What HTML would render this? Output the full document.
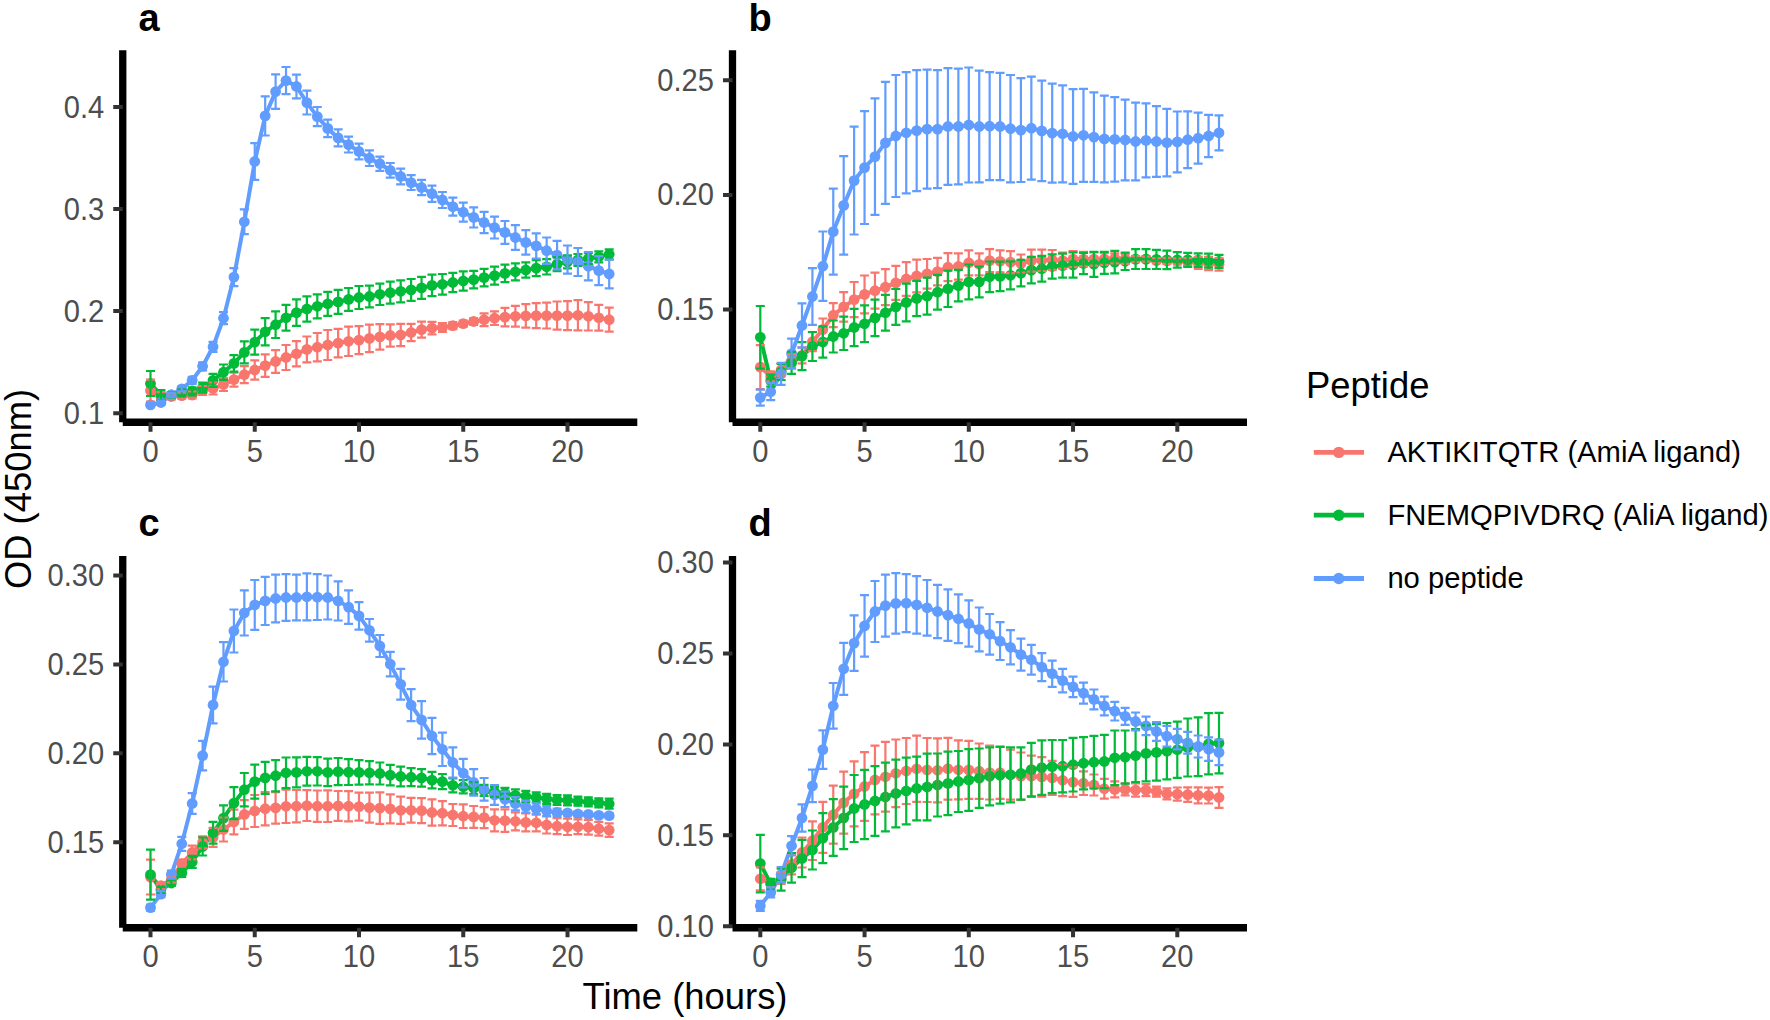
<!DOCTYPE html>
<html lang="en">
<head>
<meta charset="utf-8">
<title>Peptide growth curves</title>
<style>
html,body{margin:0;padding:0;background:#ffffff;}
body{width:1770px;height:1020px;overflow:hidden;font-family:"Liberation Sans",Arial,sans-serif;}
svg{display:block;}
</style>
</head>
<body>
<svg width="1770" height="1020" viewBox="0 0 1770 1020" font-family="'Liberation Sans', Arial, sans-serif">
<rect width="1770" height="1020" fill="#ffffff"/>
<g id="panel-a">
<polyline points="150.5,390.6 160.93,396.5 171.35,396.5 181.78,395.7 192.2,395 202.62,390.5 213.05,388.5 223.48,384.5 233.9,379.6 244.32,374.7 254.75,370 265.18,365.6 275.6,361.5 286.02,357.5 296.45,353.8 306.88,349.4 317.3,347.2 327.73,345 338.15,343.1 348.58,341.3 359,340.1 369.43,338.4 379.85,336.9 390.27,335.5 400.7,335 411.12,332.5 421.55,329.6 431.98,328.1 442.4,327.4 452.83,325.6 463.25,323.7 473.68,321.5 484.1,319.7 494.53,318.2 504.95,317.1 515.38,316.3 525.8,315.9 536.23,315.6 546.65,315.6 557.08,315.6 567.5,315.6 577.92,315.3 588.35,316.3 598.78,317.8 609.2,319.7" fill="none" stroke="#F8766D" stroke-width="4.0" stroke-linejoin="round"/>
<polyline points="150.5,383.5 160.93,395 171.35,395 181.78,392.8 192.2,391.3 202.62,387.6 213.05,380.3 223.48,372.2 233.9,363.4 244.32,352.4 254.75,342.1 265.18,331.8 275.6,324.7 286.02,317.8 296.45,312.6 306.88,309 317.3,306.3 327.73,303.8 338.15,301.9 348.58,299.4 359,297.5 369.43,296.5 379.85,294.3 390.27,292.6 400.7,291.3 411.12,289.9 421.55,287.9 431.98,285.4 442.4,284.3 452.83,282.5 463.25,281 473.68,279.6 484.1,277.6 494.53,275.6 504.95,273.4 515.38,271.8 525.8,270 536.23,268.1 546.65,266.8 557.08,264.1 567.5,261.9 577.92,260 588.35,258.5 598.78,256.8 609.2,254.3" fill="none" stroke="#00BA38" stroke-width="4.0" stroke-linejoin="round"/>
<polyline points="150.5,404.9 160.93,402.5 171.35,395 181.78,388.8 192.2,380.3 202.62,366.3 213.05,346.8 223.48,318.2 233.9,277.1 244.32,221.8 254.75,161.5 265.18,115.9 275.6,91.6 286.02,80.6 296.45,86.5 306.88,102.6 317.3,116.6 327.73,128.4 338.15,137.9 348.58,144.6 359,151.5 369.43,158.2 379.85,163.7 390.27,170.3 400.7,176.5 411.12,182.6 421.55,187.5 431.98,193.7 442.4,200 452.83,206.6 463.25,212.2 473.68,217.4 484.1,222.5 494.53,227.6 504.95,232.4 515.38,237.5 525.8,242.4 536.23,245.9 546.65,250.7 557.08,255.1 567.5,259.6 577.92,262 588.35,266.2 598.78,270.6 609.2,274" fill="none" stroke="#619CFF" stroke-width="4.0" stroke-linejoin="round"/>
<g fill="#F8766D">
<circle cx="150.5" cy="390.6" r="5.4"/>
<circle cx="160.93" cy="396.5" r="5.4"/>
<circle cx="171.35" cy="396.5" r="5.4"/>
<circle cx="181.78" cy="395.7" r="5.4"/>
<circle cx="192.2" cy="395" r="5.4"/>
<circle cx="202.62" cy="390.5" r="5.4"/>
<circle cx="213.05" cy="388.5" r="5.4"/>
<circle cx="223.48" cy="384.5" r="5.4"/>
<circle cx="233.9" cy="379.6" r="5.4"/>
<circle cx="244.32" cy="374.7" r="5.4"/>
<circle cx="254.75" cy="370" r="5.4"/>
<circle cx="265.18" cy="365.6" r="5.4"/>
<circle cx="275.6" cy="361.5" r="5.4"/>
<circle cx="286.02" cy="357.5" r="5.4"/>
<circle cx="296.45" cy="353.8" r="5.4"/>
<circle cx="306.88" cy="349.4" r="5.4"/>
<circle cx="317.3" cy="347.2" r="5.4"/>
<circle cx="327.73" cy="345" r="5.4"/>
<circle cx="338.15" cy="343.1" r="5.4"/>
<circle cx="348.58" cy="341.3" r="5.4"/>
<circle cx="359" cy="340.1" r="5.4"/>
<circle cx="369.43" cy="338.4" r="5.4"/>
<circle cx="379.85" cy="336.9" r="5.4"/>
<circle cx="390.27" cy="335.5" r="5.4"/>
<circle cx="400.7" cy="335" r="5.4"/>
<circle cx="411.12" cy="332.5" r="5.4"/>
<circle cx="421.55" cy="329.6" r="5.4"/>
<circle cx="431.98" cy="328.1" r="5.4"/>
<circle cx="442.4" cy="327.4" r="5.4"/>
<circle cx="452.83" cy="325.6" r="5.4"/>
<circle cx="463.25" cy="323.7" r="5.4"/>
<circle cx="473.68" cy="321.5" r="5.4"/>
<circle cx="484.1" cy="319.7" r="5.4"/>
<circle cx="494.53" cy="318.2" r="5.4"/>
<circle cx="504.95" cy="317.1" r="5.4"/>
<circle cx="515.38" cy="316.3" r="5.4"/>
<circle cx="525.8" cy="315.9" r="5.4"/>
<circle cx="536.23" cy="315.6" r="5.4"/>
<circle cx="546.65" cy="315.6" r="5.4"/>
<circle cx="557.08" cy="315.6" r="5.4"/>
<circle cx="567.5" cy="315.6" r="5.4"/>
<circle cx="577.92" cy="315.3" r="5.4"/>
<circle cx="588.35" cy="316.3" r="5.4"/>
<circle cx="598.78" cy="317.8" r="5.4"/>
<circle cx="609.2" cy="319.7" r="5.4"/>
</g>
<g fill="#00BA38">
<circle cx="150.5" cy="383.5" r="5.4"/>
<circle cx="160.93" cy="395" r="5.4"/>
<circle cx="171.35" cy="395" r="5.4"/>
<circle cx="181.78" cy="392.8" r="5.4"/>
<circle cx="192.2" cy="391.3" r="5.4"/>
<circle cx="202.62" cy="387.6" r="5.4"/>
<circle cx="213.05" cy="380.3" r="5.4"/>
<circle cx="223.48" cy="372.2" r="5.4"/>
<circle cx="233.9" cy="363.4" r="5.4"/>
<circle cx="244.32" cy="352.4" r="5.4"/>
<circle cx="254.75" cy="342.1" r="5.4"/>
<circle cx="265.18" cy="331.8" r="5.4"/>
<circle cx="275.6" cy="324.7" r="5.4"/>
<circle cx="286.02" cy="317.8" r="5.4"/>
<circle cx="296.45" cy="312.6" r="5.4"/>
<circle cx="306.88" cy="309" r="5.4"/>
<circle cx="317.3" cy="306.3" r="5.4"/>
<circle cx="327.73" cy="303.8" r="5.4"/>
<circle cx="338.15" cy="301.9" r="5.4"/>
<circle cx="348.58" cy="299.4" r="5.4"/>
<circle cx="359" cy="297.5" r="5.4"/>
<circle cx="369.43" cy="296.5" r="5.4"/>
<circle cx="379.85" cy="294.3" r="5.4"/>
<circle cx="390.27" cy="292.6" r="5.4"/>
<circle cx="400.7" cy="291.3" r="5.4"/>
<circle cx="411.12" cy="289.9" r="5.4"/>
<circle cx="421.55" cy="287.9" r="5.4"/>
<circle cx="431.98" cy="285.4" r="5.4"/>
<circle cx="442.4" cy="284.3" r="5.4"/>
<circle cx="452.83" cy="282.5" r="5.4"/>
<circle cx="463.25" cy="281" r="5.4"/>
<circle cx="473.68" cy="279.6" r="5.4"/>
<circle cx="484.1" cy="277.6" r="5.4"/>
<circle cx="494.53" cy="275.6" r="5.4"/>
<circle cx="504.95" cy="273.4" r="5.4"/>
<circle cx="515.38" cy="271.8" r="5.4"/>
<circle cx="525.8" cy="270" r="5.4"/>
<circle cx="536.23" cy="268.1" r="5.4"/>
<circle cx="546.65" cy="266.8" r="5.4"/>
<circle cx="557.08" cy="264.1" r="5.4"/>
<circle cx="567.5" cy="261.9" r="5.4"/>
<circle cx="577.92" cy="260" r="5.4"/>
<circle cx="588.35" cy="258.5" r="5.4"/>
<circle cx="598.78" cy="256.8" r="5.4"/>
<circle cx="609.2" cy="254.3" r="5.4"/>
</g>
<g fill="#619CFF">
<circle cx="150.5" cy="404.9" r="5.4"/>
<circle cx="160.93" cy="402.5" r="5.4"/>
<circle cx="171.35" cy="395" r="5.4"/>
<circle cx="181.78" cy="388.8" r="5.4"/>
<circle cx="192.2" cy="380.3" r="5.4"/>
<circle cx="202.62" cy="366.3" r="5.4"/>
<circle cx="213.05" cy="346.8" r="5.4"/>
<circle cx="223.48" cy="318.2" r="5.4"/>
<circle cx="233.9" cy="277.1" r="5.4"/>
<circle cx="244.32" cy="221.8" r="5.4"/>
<circle cx="254.75" cy="161.5" r="5.4"/>
<circle cx="265.18" cy="115.9" r="5.4"/>
<circle cx="275.6" cy="91.6" r="5.4"/>
<circle cx="286.02" cy="80.6" r="5.4"/>
<circle cx="296.45" cy="86.5" r="5.4"/>
<circle cx="306.88" cy="102.6" r="5.4"/>
<circle cx="317.3" cy="116.6" r="5.4"/>
<circle cx="327.73" cy="128.4" r="5.4"/>
<circle cx="338.15" cy="137.9" r="5.4"/>
<circle cx="348.58" cy="144.6" r="5.4"/>
<circle cx="359" cy="151.5" r="5.4"/>
<circle cx="369.43" cy="158.2" r="5.4"/>
<circle cx="379.85" cy="163.7" r="5.4"/>
<circle cx="390.27" cy="170.3" r="5.4"/>
<circle cx="400.7" cy="176.5" r="5.4"/>
<circle cx="411.12" cy="182.6" r="5.4"/>
<circle cx="421.55" cy="187.5" r="5.4"/>
<circle cx="431.98" cy="193.7" r="5.4"/>
<circle cx="442.4" cy="200" r="5.4"/>
<circle cx="452.83" cy="206.6" r="5.4"/>
<circle cx="463.25" cy="212.2" r="5.4"/>
<circle cx="473.68" cy="217.4" r="5.4"/>
<circle cx="484.1" cy="222.5" r="5.4"/>
<circle cx="494.53" cy="227.6" r="5.4"/>
<circle cx="504.95" cy="232.4" r="5.4"/>
<circle cx="515.38" cy="237.5" r="5.4"/>
<circle cx="525.8" cy="242.4" r="5.4"/>
<circle cx="536.23" cy="245.9" r="5.4"/>
<circle cx="546.65" cy="250.7" r="5.4"/>
<circle cx="557.08" cy="255.1" r="5.4"/>
<circle cx="567.5" cy="259.6" r="5.4"/>
<circle cx="577.92" cy="262" r="5.4"/>
<circle cx="588.35" cy="266.2" r="5.4"/>
<circle cx="598.78" cy="270.6" r="5.4"/>
<circle cx="609.2" cy="274" r="5.4"/>
</g>
<path d="M146 379.6h9M150.5 379.6v22M146 401.6h9M156.43 392.1h9M160.93 392.1v8.8M156.43 400.9h9M166.85 393.5h9M171.35 393.5v6M166.85 399.5h9M177.28 392.7h9M181.78 392.7v6M177.28 398.7h9M187.7 391.5h9M192.2 391.5v7M187.7 398.5h9M198.12 386h9M202.62 386v9M198.12 395h9M208.55 382.5h9M213.05 382.5v12M208.55 394.5h9M218.98 378h9M223.48 378v13M218.98 391h9M229.4 372.6h9M233.9 372.6v14M229.4 386.6h9M239.82 366.2h9M244.32 366.2v17M239.82 383.2h9M250.25 360.4h9M254.75 360.4v19.2M250.25 379.6h9M260.68 354.4h9M265.18 354.4v22.4M260.68 376.8h9M271.1 350.1h9M275.6 350.1v22.8M271.1 372.9h9M281.52 345h9M286.02 345v25M281.52 370h9M291.95 341.2h9M296.45 341.2v25.2M291.95 366.4h9M302.38 336.5h9M306.88 336.5v25.8M302.38 362.3h9M312.8 333h9M317.3 333v28.4M312.8 361.4h9M323.23 330h9M327.73 330v30M323.23 360h9M333.65 328.8h9M338.15 328.8v28.6M333.65 357.4h9M344.08 326.6h9M348.58 326.6v29.4M344.08 356h9M354.5 326.1h9M359 326.1v28M354.5 354.1h9M364.93 324.6h9M369.43 324.6v27.6M364.93 352.2h9M375.35 324.2h9M379.85 324.2v25.4M375.35 349.6h9M385.77 324.3h9M390.27 324.3v22.4M385.77 346.7h9M396.2 323.8h9M400.7 323.8v22.4M396.2 346.2h9M406.62 323.8h9M411.12 323.8v17.4M406.62 341.2h9M417.05 321.6h9M421.55 321.6v16M417.05 337.6h9M427.48 321.8h9M431.98 321.8v12.6M427.48 334.4h9M437.9 323h9M442.4 323v8.8M437.9 331.8h9M448.33 322.1h9M452.83 322.1v7M448.33 329.1h9M458.75 320.7h9M463.25 320.7v6M458.75 326.7h9M469.18 318h9M473.68 318v7M469.18 325h9M479.6 313.3h9M484.1 313.3v12.8M479.6 326.1h9M490.03 311.4h9M494.53 311.4v13.6M490.03 325h9M500.45 307.9h9M504.95 307.9v18.4M500.45 326.3h9M510.88 305.9h9M515.38 305.9v20.8M510.88 326.7h9M521.3 304.1h9M525.8 304.1v23.6M521.3 327.7h9M531.73 303.1h9M536.23 303.1v25M531.73 328.1h9M542.15 302.7h9M546.65 302.7v25.8M542.15 328.5h9M552.58 301.5h9M557.08 301.5v28.2M552.58 329.7h9M563 301.1h9M567.5 301.1v29M563 330.1h9M573.42 300.2h9M577.92 300.2v30.2M573.42 330.4h9M583.85 302.1h9M588.35 302.1v28.4M583.85 330.5h9M594.28 304.9h9M598.78 304.9v25.8M594.28 330.7h9M604.7 307.7h9M609.2 307.7v24M604.7 331.7h9" fill="none" stroke="#F8766D" stroke-width="2.2"/>
<path d="M146 371h9M150.5 371v25M146 396h9M156.43 390h9M160.93 390v10M156.43 400h9M166.85 392h9M171.35 392v6M166.85 398h9M177.28 389.3h9M181.78 389.3v7M177.28 396.3h9M187.7 387.3h9M192.2 387.3v8M187.7 395.3h9M198.12 382.6h9M202.62 382.6v10M198.12 392.6h9M208.55 373.8h9M213.05 373.8v13M208.55 386.8h9M218.98 364.5h9M223.48 364.5v15.4M218.98 379.9h9M229.4 355.2h9M233.9 355.2v16.4M229.4 371.6h9M239.82 341.4h9M244.32 341.4v22M239.82 363.4h9M250.25 329.6h9M254.75 329.6v25M250.25 354.6h9M260.68 318.2h9M265.18 318.2v27.2M260.68 345.4h9M271.1 311.4h9M275.6 311.4v26.6M271.1 338h9M281.52 304.9h9M286.02 304.9v25.8M281.52 330.7h9M291.95 299.4h9M296.45 299.4v26.4M291.95 325.8h9M302.38 296.3h9M306.88 296.3v25.4M302.38 321.7h9M312.8 294.3h9M317.3 294.3v24M312.8 318.3h9M323.23 291.8h9M327.73 291.8v24M323.23 315.8h9M333.65 289.9h9M338.15 289.9v24M333.65 313.9h9M344.08 288h9M348.58 288v22.8M344.08 310.8h9M354.5 286h9M359 286v23M354.5 309h9M364.93 285.6h9M369.43 285.6v21.8M364.93 307.4h9M375.35 283.6h9M379.85 283.6v21.4M375.35 305h9M385.77 281.6h9M390.27 281.6v22M385.77 303.6h9M396.2 280.3h9M400.7 280.3v22M396.2 302.3h9M406.62 279h9M411.12 279v21.8M406.62 300.8h9M417.05 276.9h9M421.55 276.9v22M417.05 298.9h9M427.48 274.7h9M431.98 274.7v21.4M427.48 296.1h9M437.9 274h9M442.4 274v20.6M437.9 294.6h9M448.33 272.8h9M452.83 272.8v19.4M448.33 292.2h9M458.75 271.4h9M463.25 271.4v19.2M458.75 290.6h9M469.18 270.8h9M473.68 270.8v17.6M469.18 288.4h9M479.6 268.8h9M484.1 268.8v17.6M479.6 286.4h9M490.03 266.6h9M494.53 266.6v18M490.03 284.6h9M500.45 264.6h9M504.95 264.6v17.6M500.45 282.2h9M510.88 263.3h9M515.38 263.3v17M510.88 280.3h9M521.3 262.3h9M525.8 262.3v15.4M521.3 277.7h9M531.73 260.1h9M536.23 260.1v16M531.73 276.1h9M542.15 259.1h9M546.65 259.1v15.4M542.15 274.5h9M552.58 257.1h9M557.08 257.1v14M552.58 271.1h9M563 255.4h9M567.5 255.4v13M563 268.4h9M573.42 254h9M577.92 254v12M573.42 266h9M583.85 253h9M588.35 253v11M583.85 264h9M594.28 251.3h9M598.78 251.3v11M594.28 262.3h9M604.7 249.3h9M609.2 249.3v10M604.7 259.3h9" fill="none" stroke="#00BA38" stroke-width="2.2"/>
<path d="M146 402.9h9M150.5 402.9v4M146 406.9h9M156.43 400.5h9M160.93 400.5v4M156.43 404.5h9M166.85 392.5h9M171.35 392.5v5M166.85 397.5h9M177.28 386.3h9M181.78 386.3v5M177.28 391.3h9M187.7 376.8h9M192.2 376.8v7M187.7 383.8h9M198.12 362.3h9M202.62 362.3v8M198.12 370.3h9M208.55 341.8h9M213.05 341.8v10M208.55 351.8h9M218.98 312.2h9M223.48 312.2v12M218.98 324.2h9M229.4 268.1h9M233.9 268.1v18M229.4 286.1h9M239.82 209.4h9M244.32 209.4v24.8M239.82 234.2h9M250.25 143.1h9M254.75 143.1v36.8M250.25 179.9h9M260.68 96.3h9M265.18 96.3v39.2M260.68 135.5h9M271.1 74.3h9M275.6 74.3v34.6M271.1 108.9h9M281.52 67h9M286.02 67v27.2M281.52 94.2h9M291.95 74.7h9M296.45 74.7v23.6M291.95 98.3h9M302.38 90.7h9M306.88 90.7v23.8M302.38 114.5h9M312.8 107h9M317.3 107v19.2M312.8 126.2h9M323.23 119.6h9M327.73 119.6v17.6M323.23 137.2h9M333.65 129.4h9M338.15 129.4v17M333.65 146.4h9M344.08 136.7h9M348.58 136.7v15.8M344.08 152.5h9M354.5 143.7h9M359 143.7v15.6M354.5 159.3h9M364.93 150.4h9M369.43 150.4v15.6M364.93 166h9M375.35 156.6h9M379.85 156.6v14.2M375.35 170.8h9M385.77 163h9M390.27 163v14.6M385.77 177.6h9M396.2 168.6h9M400.7 168.6v15.8M396.2 184.4h9M406.62 175.2h9M411.12 175.2v14.8M406.62 190h9M417.05 179.9h9M421.55 179.9v15.2M417.05 195.1h9M427.48 185.6h9M431.98 185.6v16.2M427.48 201.8h9M437.9 192h9M442.4 192v16M437.9 208h9M448.33 197.6h9M452.83 197.6v18M448.33 215.6h9M458.75 202.7h9M463.25 202.7v19M458.75 221.7h9M469.18 207.3h9M473.68 207.3v20.2M469.18 227.5h9M479.6 211.8h9M484.1 211.8v21.4M479.6 233.2h9M490.03 216.7h9M494.53 216.7v21.8M490.03 238.5h9M500.45 221h9M504.95 221v22.8M500.45 243.8h9M510.88 225.1h9M515.38 225.1v24.8M510.88 249.9h9M521.3 230.2h9M525.8 230.2v24.4M521.3 254.6h9M531.73 233.3h9M536.23 233.3v25.2M531.73 258.5h9M542.15 237.5h9M546.65 237.5v26.4M542.15 263.9h9M552.58 240.9h9M557.08 240.9v28.4M552.58 269.3h9M563 245.5h9M567.5 245.5v28.2M563 273.7h9M573.42 248h9M577.92 248v28M573.42 276h9M583.85 252h9M588.35 252v28.4M583.85 280.4h9M594.28 256.1h9M598.78 256.1v29M594.28 285.1h9M604.7 259.7h9M609.2 259.7v28.6M604.7 288.3h9" fill="none" stroke="#619CFF" stroke-width="2.2"/>
<path d="M122.75 50.3V422.25" stroke="#000" stroke-width="7.3" fill="none"/>
<path d="M122.75 422.25H637.3" stroke="#000" stroke-width="7.3" fill="none"/>
<path d="M122.75 413.2h-9.5M122.75 311.1h-9.5M122.75 209.1h-9.5M122.75 107.1h-9.5M150.5 422.25v9.5M254.75 422.25v9.5M359 422.25v9.5M463.25 422.25v9.5M567.5 422.25v9.5" stroke="#333333" stroke-width="4.0" fill="none"/>
<g font-size="29.1" fill="#4D4D4D">
<text transform="translate(104.15 423.7) scale(1 1.06)" text-anchor="end">0.1</text>
<text transform="translate(104.15 321.6) scale(1 1.06)" text-anchor="end">0.2</text>
<text transform="translate(104.15 219.6) scale(1 1.06)" text-anchor="end">0.3</text>
<text transform="translate(104.15 117.6) scale(1 1.06)" text-anchor="end">0.4</text>
<text transform="translate(150.5 461.65) scale(1 1.06)" text-anchor="middle">0</text>
<text transform="translate(254.75 461.65) scale(1 1.06)" text-anchor="middle">5</text>
<text transform="translate(359 461.65) scale(1 1.06)" text-anchor="middle">10</text>
<text transform="translate(463.25 461.65) scale(1 1.06)" text-anchor="middle">15</text>
<text transform="translate(567.5 461.65) scale(1 1.06)" text-anchor="middle">20</text>
</g>
<text x="138.5" y="30.7" font-size="38" font-weight="bold" fill="#000">a</text>
</g>
<g id="panel-b">
<polyline points="760.3,367.1 770.72,376.4 781.15,369.7 791.57,361.2 802,355.3 812.42,341.7 822.85,329.5 833.27,315.2 843.7,306.9 854.12,299.6 864.55,294.4 874.97,290.7 885.4,287.1 895.82,282.9 906.25,279 916.67,276 927.1,273.8 937.52,271.6 947.95,267.2 958.38,266.5 968.8,262.8 979.22,264.3 989.65,260.6 1000.07,261.3 1010.5,262.1 1020.92,263.5 1031.35,260.6 1041.78,260.3 1052.2,259.9 1062.62,260.6 1073.05,259.1 1083.47,259.1 1093.9,259.1 1104.33,258.8 1114.75,258.4 1125.17,258.8 1135.6,259.1 1146.03,259.1 1156.45,260.6 1166.88,260.9 1177.3,261.3 1187.72,262.1 1198.15,262.8 1208.58,263.5 1219,264.3" fill="none" stroke="#F8766D" stroke-width="4.0" stroke-linejoin="round"/>
<polyline points="760.3,337.3 770.72,380.7 781.15,372 791.57,362.9 802,356.1 812.42,346.5 822.85,342 833.27,336.5 843.7,333.3 854.12,327.5 864.55,323.8 874.97,317.9 885.4,312.8 895.82,306.9 906.25,302.5 916.67,298.5 927.1,296.2 937.52,292.2 947.95,288.8 958.38,285.6 968.8,281.9 979.22,281.9 989.65,276.8 1000.07,276.4 1010.5,275.3 1020.92,273.1 1031.35,270.1 1041.78,268.7 1052.2,266.5 1062.62,265.7 1073.05,265 1083.47,263.5 1093.9,264.3 1104.33,262.8 1114.75,262.1 1125.17,261.3 1135.6,259.1 1146.03,259.1 1156.45,259.4 1166.88,259.9 1177.3,259.9 1187.72,259.9 1198.15,260.1 1208.58,260.6 1219,261.3" fill="none" stroke="#00BA38" stroke-width="4.0" stroke-linejoin="round"/>
<polyline points="760.3,397.6 770.72,391.7 781.15,373.9 791.57,353.6 802,325.5 812.42,296.5 822.85,266.2 833.27,231.6 843.7,205.4 854.12,180.6 864.55,167.6 874.97,156.6 885.4,142.9 895.82,136 906.25,132.8 916.67,130.6 927.1,129.1 937.52,129.1 947.95,126.5 958.38,126.5 968.8,125 979.22,126.5 989.65,126.2 1000.07,126.5 1010.5,128.7 1020.92,130.1 1031.35,128.2 1041.78,130.9 1052.2,133.1 1062.62,133.8 1073.05,136.5 1083.47,135.3 1093.9,137.1 1104.33,139 1114.75,139.4 1125.17,140 1135.6,141.5 1146.03,140.4 1156.45,141.5 1166.88,142.6 1177.3,141.9 1187.72,139.7 1198.15,138.2 1208.58,136 1219,132.8" fill="none" stroke="#619CFF" stroke-width="4.0" stroke-linejoin="round"/>
<g fill="#F8766D">
<circle cx="760.3" cy="367.1" r="5.4"/>
<circle cx="770.72" cy="376.4" r="5.4"/>
<circle cx="781.15" cy="369.7" r="5.4"/>
<circle cx="791.57" cy="361.2" r="5.4"/>
<circle cx="802" cy="355.3" r="5.4"/>
<circle cx="812.42" cy="341.7" r="5.4"/>
<circle cx="822.85" cy="329.5" r="5.4"/>
<circle cx="833.27" cy="315.2" r="5.4"/>
<circle cx="843.7" cy="306.9" r="5.4"/>
<circle cx="854.12" cy="299.6" r="5.4"/>
<circle cx="864.55" cy="294.4" r="5.4"/>
<circle cx="874.97" cy="290.7" r="5.4"/>
<circle cx="885.4" cy="287.1" r="5.4"/>
<circle cx="895.82" cy="282.9" r="5.4"/>
<circle cx="906.25" cy="279" r="5.4"/>
<circle cx="916.67" cy="276" r="5.4"/>
<circle cx="927.1" cy="273.8" r="5.4"/>
<circle cx="937.52" cy="271.6" r="5.4"/>
<circle cx="947.95" cy="267.2" r="5.4"/>
<circle cx="958.38" cy="266.5" r="5.4"/>
<circle cx="968.8" cy="262.8" r="5.4"/>
<circle cx="979.22" cy="264.3" r="5.4"/>
<circle cx="989.65" cy="260.6" r="5.4"/>
<circle cx="1000.07" cy="261.3" r="5.4"/>
<circle cx="1010.5" cy="262.1" r="5.4"/>
<circle cx="1020.92" cy="263.5" r="5.4"/>
<circle cx="1031.35" cy="260.6" r="5.4"/>
<circle cx="1041.78" cy="260.3" r="5.4"/>
<circle cx="1052.2" cy="259.9" r="5.4"/>
<circle cx="1062.62" cy="260.6" r="5.4"/>
<circle cx="1073.05" cy="259.1" r="5.4"/>
<circle cx="1083.47" cy="259.1" r="5.4"/>
<circle cx="1093.9" cy="259.1" r="5.4"/>
<circle cx="1104.33" cy="258.8" r="5.4"/>
<circle cx="1114.75" cy="258.4" r="5.4"/>
<circle cx="1125.17" cy="258.8" r="5.4"/>
<circle cx="1135.6" cy="259.1" r="5.4"/>
<circle cx="1146.03" cy="259.1" r="5.4"/>
<circle cx="1156.45" cy="260.6" r="5.4"/>
<circle cx="1166.88" cy="260.9" r="5.4"/>
<circle cx="1177.3" cy="261.3" r="5.4"/>
<circle cx="1187.72" cy="262.1" r="5.4"/>
<circle cx="1198.15" cy="262.8" r="5.4"/>
<circle cx="1208.58" cy="263.5" r="5.4"/>
<circle cx="1219" cy="264.3" r="5.4"/>
</g>
<g fill="#00BA38">
<circle cx="760.3" cy="337.3" r="5.4"/>
<circle cx="770.72" cy="380.7" r="5.4"/>
<circle cx="781.15" cy="372" r="5.4"/>
<circle cx="791.57" cy="362.9" r="5.4"/>
<circle cx="802" cy="356.1" r="5.4"/>
<circle cx="812.42" cy="346.5" r="5.4"/>
<circle cx="822.85" cy="342" r="5.4"/>
<circle cx="833.27" cy="336.5" r="5.4"/>
<circle cx="843.7" cy="333.3" r="5.4"/>
<circle cx="854.12" cy="327.5" r="5.4"/>
<circle cx="864.55" cy="323.8" r="5.4"/>
<circle cx="874.97" cy="317.9" r="5.4"/>
<circle cx="885.4" cy="312.8" r="5.4"/>
<circle cx="895.82" cy="306.9" r="5.4"/>
<circle cx="906.25" cy="302.5" r="5.4"/>
<circle cx="916.67" cy="298.5" r="5.4"/>
<circle cx="927.1" cy="296.2" r="5.4"/>
<circle cx="937.52" cy="292.2" r="5.4"/>
<circle cx="947.95" cy="288.8" r="5.4"/>
<circle cx="958.38" cy="285.6" r="5.4"/>
<circle cx="968.8" cy="281.9" r="5.4"/>
<circle cx="979.22" cy="281.9" r="5.4"/>
<circle cx="989.65" cy="276.8" r="5.4"/>
<circle cx="1000.07" cy="276.4" r="5.4"/>
<circle cx="1010.5" cy="275.3" r="5.4"/>
<circle cx="1020.92" cy="273.1" r="5.4"/>
<circle cx="1031.35" cy="270.1" r="5.4"/>
<circle cx="1041.78" cy="268.7" r="5.4"/>
<circle cx="1052.2" cy="266.5" r="5.4"/>
<circle cx="1062.62" cy="265.7" r="5.4"/>
<circle cx="1073.05" cy="265" r="5.4"/>
<circle cx="1083.47" cy="263.5" r="5.4"/>
<circle cx="1093.9" cy="264.3" r="5.4"/>
<circle cx="1104.33" cy="262.8" r="5.4"/>
<circle cx="1114.75" cy="262.1" r="5.4"/>
<circle cx="1125.17" cy="261.3" r="5.4"/>
<circle cx="1135.6" cy="259.1" r="5.4"/>
<circle cx="1146.03" cy="259.1" r="5.4"/>
<circle cx="1156.45" cy="259.4" r="5.4"/>
<circle cx="1166.88" cy="259.9" r="5.4"/>
<circle cx="1177.3" cy="259.9" r="5.4"/>
<circle cx="1187.72" cy="259.9" r="5.4"/>
<circle cx="1198.15" cy="260.1" r="5.4"/>
<circle cx="1208.58" cy="260.6" r="5.4"/>
<circle cx="1219" cy="261.3" r="5.4"/>
</g>
<g fill="#619CFF">
<circle cx="760.3" cy="397.6" r="5.4"/>
<circle cx="770.72" cy="391.7" r="5.4"/>
<circle cx="781.15" cy="373.9" r="5.4"/>
<circle cx="791.57" cy="353.6" r="5.4"/>
<circle cx="802" cy="325.5" r="5.4"/>
<circle cx="812.42" cy="296.5" r="5.4"/>
<circle cx="822.85" cy="266.2" r="5.4"/>
<circle cx="833.27" cy="231.6" r="5.4"/>
<circle cx="843.7" cy="205.4" r="5.4"/>
<circle cx="854.12" cy="180.6" r="5.4"/>
<circle cx="864.55" cy="167.6" r="5.4"/>
<circle cx="874.97" cy="156.6" r="5.4"/>
<circle cx="885.4" cy="142.9" r="5.4"/>
<circle cx="895.82" cy="136" r="5.4"/>
<circle cx="906.25" cy="132.8" r="5.4"/>
<circle cx="916.67" cy="130.6" r="5.4"/>
<circle cx="927.1" cy="129.1" r="5.4"/>
<circle cx="937.52" cy="129.1" r="5.4"/>
<circle cx="947.95" cy="126.5" r="5.4"/>
<circle cx="958.38" cy="126.5" r="5.4"/>
<circle cx="968.8" cy="125" r="5.4"/>
<circle cx="979.22" cy="126.5" r="5.4"/>
<circle cx="989.65" cy="126.2" r="5.4"/>
<circle cx="1000.07" cy="126.5" r="5.4"/>
<circle cx="1010.5" cy="128.7" r="5.4"/>
<circle cx="1020.92" cy="130.1" r="5.4"/>
<circle cx="1031.35" cy="128.2" r="5.4"/>
<circle cx="1041.78" cy="130.9" r="5.4"/>
<circle cx="1052.2" cy="133.1" r="5.4"/>
<circle cx="1062.62" cy="133.8" r="5.4"/>
<circle cx="1073.05" cy="136.5" r="5.4"/>
<circle cx="1083.47" cy="135.3" r="5.4"/>
<circle cx="1093.9" cy="137.1" r="5.4"/>
<circle cx="1104.33" cy="139" r="5.4"/>
<circle cx="1114.75" cy="139.4" r="5.4"/>
<circle cx="1125.17" cy="140" r="5.4"/>
<circle cx="1135.6" cy="141.5" r="5.4"/>
<circle cx="1146.03" cy="140.4" r="5.4"/>
<circle cx="1156.45" cy="141.5" r="5.4"/>
<circle cx="1166.88" cy="142.6" r="5.4"/>
<circle cx="1177.3" cy="141.9" r="5.4"/>
<circle cx="1187.72" cy="139.7" r="5.4"/>
<circle cx="1198.15" cy="138.2" r="5.4"/>
<circle cx="1208.58" cy="136" r="5.4"/>
<circle cx="1219" cy="132.8" r="5.4"/>
</g>
<path d="M755.8 345.1h9M760.3 345.1v44M755.8 389.1h9M766.22 371.4h9M770.72 371.4v10M766.22 381.4h9M776.65 363.7h9M781.15 363.7v12M776.65 375.7h9M787.07 354.2h9M791.57 354.2v14M787.07 368.2h9M797.5 347.3h9M802 347.3v16M797.5 363.3h9M807.92 332.2h9M812.42 332.2v19M807.92 351.2h9M818.35 318.5h9M822.85 318.5v22M818.35 340.5h9M828.77 303.2h9M833.27 303.2v24M828.77 327.2h9M839.2 292.2h9M843.7 292.2v29.4M839.2 321.6h9M849.62 282h9M854.12 282v35.2M849.62 317.2h9M860.05 275.5h9M864.55 275.5v37.8M860.05 313.3h9M870.47 272.7h9M874.97 272.7v36M870.47 308.7h9M880.9 269.1h9M885.4 269.1v36M880.9 305.1h9M891.32 265.9h9M895.82 265.9v34M891.32 299.9h9M901.75 262.2h9M906.25 262.2v33.6M901.75 295.8h9M912.17 259.6h9M916.67 259.6v32.8M912.17 292.4h9M922.6 259h9M927.1 259v29.6M922.6 288.6h9M933.02 257.8h9M937.52 257.8v27.6M933.02 285.4h9M943.45 253.2h9M947.95 253.2v28M943.45 281.2h9M953.88 253.3h9M958.38 253.3v26.4M953.88 279.7h9M964.3 250.3h9M968.8 250.3v25M964.3 275.3h9M974.72 253.3h9M979.22 253.3v22M974.72 275.3h9M985.15 249.2h9M989.65 249.2v22.8M985.15 272h9M995.57 250.3h9M1000.07 250.3v22M995.57 272.3h9M1006 251.1h9M1010.5 251.1v22M1006 273.1h9M1016.42 254.5h9M1020.92 254.5v18M1016.42 272.5h9M1026.85 249.6h9M1031.35 249.6v22M1026.85 271.6h9M1037.28 249.6h9M1041.78 249.6v21.4M1037.28 271h9M1047.7 250h9M1052.2 250v19.8M1047.7 269.8h9M1058.12 252.6h9M1062.62 252.6v16M1058.12 268.6h9M1068.55 251.1h9M1073.05 251.1v16M1068.55 267.1h9M1078.97 251.8h9M1083.47 251.8v14.6M1078.97 266.4h9M1089.4 252.5h9M1093.9 252.5v13.2M1089.4 265.7h9M1099.83 252.8h9M1104.33 252.8v12M1099.83 264.8h9M1110.25 253.4h9M1114.75 253.4v10M1110.25 263.4h9M1120.67 253.8h9M1125.17 253.8v10M1120.67 263.8h9M1131.1 256.1h9M1135.6 256.1v6M1131.1 262.1h9M1141.53 256.6h9M1146.03 256.6v5M1141.53 261.6h9M1151.95 258.1h9M1156.45 258.1v5M1151.95 263.1h9M1162.38 257.9h9M1166.88 257.9v6M1162.38 263.9h9M1172.8 258.3h9M1177.3 258.3v6M1172.8 264.3h9M1183.22 258.1h9M1187.72 258.1v8M1183.22 266.1h9M1193.65 256.8h9M1198.15 256.8v12M1193.65 268.8h9M1204.08 256.9h9M1208.58 256.9v13.2M1204.08 270.1h9M1214.5 258h9M1219 258v12.6M1214.5 270.6h9" fill="none" stroke="#F8766D" stroke-width="2.2"/>
<path d="M755.8 306h9M760.3 306v62.6M755.8 368.6h9M766.22 374.7h9M770.72 374.7v12M766.22 386.7h9M776.65 364h9M781.15 364v16M776.65 380h9M787.07 351.9h9M791.57 351.9v22M787.07 373.9h9M797.5 342.1h9M802 342.1v28M797.5 370.1h9M807.92 332h9M812.42 332v29M807.92 361h9M818.35 326.4h9M822.85 326.4v31.2M818.35 357.6h9M828.77 320.5h9M833.27 320.5v32M828.77 352.5h9M839.2 316.6h9M843.7 316.6v33.4M839.2 350h9M849.62 308.8h9M854.12 308.8v37.4M849.62 346.2h9M860.05 305.4h9M864.55 305.4v36.8M860.05 342.2h9M870.47 299.6h9M874.97 299.6v36.6M870.47 336.2h9M880.9 294.9h9M885.4 294.9v35.8M880.9 330.7h9M891.32 289h9M895.82 289v35.8M891.32 324.8h9M901.75 283.7h9M906.25 283.7v37.6M901.75 321.3h9M912.17 280.9h9M916.67 280.9v35.2M912.17 316.1h9M922.6 277.7h9M927.1 277.7v37M922.6 314.7h9M933.02 274.8h9M937.52 274.8v34.8M933.02 309.6h9M943.45 270.6h9M947.95 270.6v36.4M943.45 307h9M953.88 269.8h9M958.38 269.8v31.6M953.88 301.4h9M964.3 264.5h9M968.8 264.5v34.8M964.3 299.3h9M974.72 266.5h9M979.22 266.5v30.8M974.72 297.3h9M985.15 261.5h9M989.65 261.5v30.6M985.15 292.1h9M995.57 261.7h9M1000.07 261.7v29.4M995.57 291.1h9M1006 261.3h9M1010.5 261.3v28M1006 289.3h9M1016.42 259.9h9M1020.92 259.9v26.4M1016.42 286.3h9M1026.85 256.9h9M1031.35 256.9v26.4M1026.85 283.3h9M1037.28 255.8h9M1041.78 255.8v25.8M1037.28 281.6h9M1047.7 254.4h9M1052.2 254.4v24.2M1047.7 278.6h9M1058.12 253.7h9M1062.62 253.7v24M1058.12 277.7h9M1068.55 252.3h9M1073.05 252.3v25.4M1068.55 277.7h9M1078.97 252.8h9M1083.47 252.8v21.4M1078.97 274.2h9M1089.4 251.8h9M1093.9 251.8v25M1089.4 276.8h9M1099.83 251.8h9M1104.33 251.8v22M1099.83 273.8h9M1110.25 250.9h9M1114.75 250.9v22.4M1110.25 273.3h9M1120.67 252.6h9M1125.17 252.6v17.4M1120.67 270h9M1131.1 249.2h9M1135.6 249.2v19.8M1131.1 269h9M1141.53 249.2h9M1146.03 249.2v19.8M1141.53 269h9M1151.95 249.8h9M1156.45 249.8v19.2M1151.95 269h9M1162.38 250.7h9M1166.88 250.7v18.4M1162.38 269.1h9M1172.8 252.2h9M1177.3 252.2v15.4M1172.8 267.6h9M1183.22 252.9h9M1187.72 252.9v14M1183.22 266.9h9M1193.65 253.3h9M1198.15 253.3v13.6M1193.65 266.9h9M1204.08 253.6h9M1208.58 253.6v14M1204.08 267.6h9M1214.5 254.8h9M1219 254.8v13M1214.5 267.8h9" fill="none" stroke="#00BA38" stroke-width="2.2"/>
<path d="M755.8 389.6h9M760.3 389.6v16M755.8 405.6h9M766.22 383.2h9M770.72 383.2v17M766.22 400.2h9M776.65 362.9h9M781.15 362.9v22M776.65 384.9h9M787.07 338.6h9M791.57 338.6v30M787.07 368.6h9M797.5 303.3h9M802 303.3v44.4M797.5 347.7h9M807.92 268.2h9M812.42 268.2v56.6M807.92 324.8h9M818.35 231.5h9M822.85 231.5v69.4M818.35 300.9h9M828.77 188.6h9M833.27 188.6v86M828.77 274.6h9M839.2 156.1h9M843.7 156.1v98.6M839.2 254.7h9M849.62 126.7h9M854.12 126.7v107.8M849.62 234.5h9M860.05 111.2h9M864.55 111.2v112.8M860.05 224h9M870.47 98.4h9M874.97 98.4v116.4M870.47 214.8h9M880.9 81.9h9M885.4 81.9v122M880.9 203.9h9M891.32 75h9M895.82 75v122M891.32 197h9M901.75 72.2h9M906.25 72.2v121.2M901.75 193.4h9M912.17 70.1h9M916.67 70.1v121M912.17 191.1h9M922.6 69.6h9M927.1 69.6v119M922.6 188.6h9M933.02 70.1h9M937.52 70.1v118M933.02 188.1h9M943.45 68.2h9M947.95 68.2v116.6M943.45 184.8h9M953.88 68.6h9M958.38 68.6v115.8M953.88 184.4h9M964.3 67.5h9M968.8 67.5v115M964.3 182.5h9M974.72 70.6h9M979.22 70.6v111.8M974.72 182.4h9M985.15 72.2h9M989.65 72.2v108M985.15 180.2h9M995.57 72.8h9M1000.07 72.8v107.4M995.57 180.2h9M1006 75h9M1010.5 75v107.4M1006 182.4h9M1016.42 78.2h9M1020.92 78.2v103.8M1016.42 182h9M1026.85 76.7h9M1031.35 76.7v103M1026.85 179.7h9M1037.28 80.7h9M1041.78 80.7v100.4M1037.28 181.1h9M1047.7 83.6h9M1052.2 83.6v99M1047.7 182.6h9M1058.12 85.3h9M1062.62 85.3v97M1058.12 182.3h9M1068.55 89.2h9M1073.05 89.2v94.6M1068.55 183.8h9M1078.97 88.8h9M1083.47 88.8v93M1078.97 181.8h9M1089.4 92.4h9M1093.9 92.4v89.4M1089.4 181.8h9M1099.83 95.6h9M1104.33 95.6v86.8M1099.83 182.4h9M1110.25 97.1h9M1114.75 97.1v84.6M1110.25 181.7h9M1120.67 99.6h9M1125.17 99.6v80.8M1120.67 180.4h9M1131.1 102.7h9M1135.6 102.7v77.6M1131.1 180.3h9M1141.53 103.4h9M1146.03 103.4v74M1141.53 177.4h9M1151.95 106.2h9M1156.45 106.2v70.6M1151.95 176.8h9M1162.38 108.9h9M1166.88 108.9v67.4M1162.38 176.3h9M1172.8 111.5h9M1177.3 111.5v60.8M1172.8 172.3h9M1183.22 111.3h9M1187.72 111.3v56.8M1183.22 168.1h9M1193.65 112.7h9M1198.15 112.7v51M1193.65 163.7h9M1204.08 114.8h9M1208.58 114.8v42.4M1204.08 157.2h9M1214.5 115.3h9M1219 115.3v35M1214.5 150.3h9" fill="none" stroke="#619CFF" stroke-width="2.2"/>
<path d="M732.5 50.3V422.25" stroke="#000" stroke-width="7.3" fill="none"/>
<path d="M732.5 422.25H1247" stroke="#000" stroke-width="7.3" fill="none"/>
<path d="M732.5 309.5h-9.5M732.5 194.9h-9.5M732.5 80.2h-9.5M760.3 422.25v9.5M864.55 422.25v9.5M968.8 422.25v9.5M1073.05 422.25v9.5M1177.3 422.25v9.5" stroke="#333333" stroke-width="4.0" fill="none"/>
<g font-size="29.1" fill="#4D4D4D">
<text transform="translate(713.9 320) scale(1 1.06)" text-anchor="end">0.15</text>
<text transform="translate(713.9 205.4) scale(1 1.06)" text-anchor="end">0.20</text>
<text transform="translate(713.9 90.7) scale(1 1.06)" text-anchor="end">0.25</text>
<text transform="translate(760.3 461.65) scale(1 1.06)" text-anchor="middle">0</text>
<text transform="translate(864.55 461.65) scale(1 1.06)" text-anchor="middle">5</text>
<text transform="translate(968.8 461.65) scale(1 1.06)" text-anchor="middle">10</text>
<text transform="translate(1073.05 461.65) scale(1 1.06)" text-anchor="middle">15</text>
<text transform="translate(1177.3 461.65) scale(1 1.06)" text-anchor="middle">20</text>
</g>
<text x="748.5" y="30.7" font-size="38" font-weight="bold" fill="#000">b</text>
</g>
<g id="panel-c">
<polyline points="150.5,877.1 160.93,885.6 171.35,879.7 181.78,863.6 192.2,852.5 202.62,842.4 213.05,837.4 223.48,829.5 233.9,822 244.32,814.5 254.75,811 265.18,808.7 275.6,807.9 286.02,806.3 296.45,806.2 306.88,805.6 317.3,806.2 327.73,806.2 338.15,805.9 348.58,806.2 359,806.6 369.43,807.6 379.85,808.1 390.27,808.9 400.7,810.3 411.12,810.3 421.55,810.6 431.98,812.5 442.4,813.2 452.83,815 463.25,816.2 473.68,816.9 484.1,817.6 494.53,820.3 504.95,820.6 515.38,821.3 525.8,822.4 536.23,822.8 546.65,825 557.08,826.2 567.5,826.8 577.92,826.8 588.35,827.2 598.78,828.7 609.2,830.1" fill="none" stroke="#F8766D" stroke-width="4.0" stroke-linejoin="round"/>
<polyline points="150.5,874.6 160.93,889.8 171.35,883 181.78,872.9 192.2,861.9 202.62,846.5 213.05,832.7 223.48,818.1 233.9,803.1 244.32,789.7 254.75,781.6 265.18,777.9 275.6,775.7 286.02,772.8 296.45,772.4 306.88,771.3 317.3,771.3 327.73,772.4 338.15,771.6 348.58,772.1 359,772.4 369.43,772.8 379.85,773.5 390.27,775.1 400.7,776.5 411.12,777.2 421.55,777.9 431.98,780.1 442.4,781.6 452.83,785.3 463.25,786.8 473.68,788.2 484.1,790.4 494.53,791.9 504.95,793.4 515.38,795.3 525.8,796.3 536.23,797.4 546.65,798.8 557.08,800 567.5,800.3 577.92,801.2 588.35,801.9 598.78,802.9 609.2,803.7" fill="none" stroke="#00BA38" stroke-width="4.0" stroke-linejoin="round"/>
<polyline points="150.5,907.6 160.93,894.1 171.35,874.6 181.78,843.8 192.2,803.5 202.62,755.6 213.05,705 223.48,661.8 233.9,631 244.32,612.9 254.75,604.9 265.18,600.9 275.6,598.5 286.02,597.5 296.45,597.5 306.88,596.8 317.3,597.1 327.73,597.5 338.15,600.9 348.58,607.1 359,615.9 369.43,630.3 379.85,646 390.27,664.1 400.7,684.3 411.12,705.1 421.55,719.9 431.98,736 442.4,749.3 452.83,762.5 463.25,773.1 473.68,782.4 484.1,789.3 494.53,794.9 504.95,799.3 515.38,803.7 525.8,806.6 536.23,808.8 546.65,811 557.08,812.5 567.5,812.9 577.92,814 588.35,814.4 598.78,815.4 609.2,815.7" fill="none" stroke="#619CFF" stroke-width="4.0" stroke-linejoin="round"/>
<g fill="#F8766D">
<circle cx="150.5" cy="877.1" r="5.4"/>
<circle cx="160.93" cy="885.6" r="5.4"/>
<circle cx="171.35" cy="879.7" r="5.4"/>
<circle cx="181.78" cy="863.6" r="5.4"/>
<circle cx="192.2" cy="852.5" r="5.4"/>
<circle cx="202.62" cy="842.4" r="5.4"/>
<circle cx="213.05" cy="837.4" r="5.4"/>
<circle cx="223.48" cy="829.5" r="5.4"/>
<circle cx="233.9" cy="822" r="5.4"/>
<circle cx="244.32" cy="814.5" r="5.4"/>
<circle cx="254.75" cy="811" r="5.4"/>
<circle cx="265.18" cy="808.7" r="5.4"/>
<circle cx="275.6" cy="807.9" r="5.4"/>
<circle cx="286.02" cy="806.3" r="5.4"/>
<circle cx="296.45" cy="806.2" r="5.4"/>
<circle cx="306.88" cy="805.6" r="5.4"/>
<circle cx="317.3" cy="806.2" r="5.4"/>
<circle cx="327.73" cy="806.2" r="5.4"/>
<circle cx="338.15" cy="805.9" r="5.4"/>
<circle cx="348.58" cy="806.2" r="5.4"/>
<circle cx="359" cy="806.6" r="5.4"/>
<circle cx="369.43" cy="807.6" r="5.4"/>
<circle cx="379.85" cy="808.1" r="5.4"/>
<circle cx="390.27" cy="808.9" r="5.4"/>
<circle cx="400.7" cy="810.3" r="5.4"/>
<circle cx="411.12" cy="810.3" r="5.4"/>
<circle cx="421.55" cy="810.6" r="5.4"/>
<circle cx="431.98" cy="812.5" r="5.4"/>
<circle cx="442.4" cy="813.2" r="5.4"/>
<circle cx="452.83" cy="815" r="5.4"/>
<circle cx="463.25" cy="816.2" r="5.4"/>
<circle cx="473.68" cy="816.9" r="5.4"/>
<circle cx="484.1" cy="817.6" r="5.4"/>
<circle cx="494.53" cy="820.3" r="5.4"/>
<circle cx="504.95" cy="820.6" r="5.4"/>
<circle cx="515.38" cy="821.3" r="5.4"/>
<circle cx="525.8" cy="822.4" r="5.4"/>
<circle cx="536.23" cy="822.8" r="5.4"/>
<circle cx="546.65" cy="825" r="5.4"/>
<circle cx="557.08" cy="826.2" r="5.4"/>
<circle cx="567.5" cy="826.8" r="5.4"/>
<circle cx="577.92" cy="826.8" r="5.4"/>
<circle cx="588.35" cy="827.2" r="5.4"/>
<circle cx="598.78" cy="828.7" r="5.4"/>
<circle cx="609.2" cy="830.1" r="5.4"/>
</g>
<g fill="#00BA38">
<circle cx="150.5" cy="874.6" r="5.4"/>
<circle cx="160.93" cy="889.8" r="5.4"/>
<circle cx="171.35" cy="883" r="5.4"/>
<circle cx="181.78" cy="872.9" r="5.4"/>
<circle cx="192.2" cy="861.9" r="5.4"/>
<circle cx="202.62" cy="846.5" r="5.4"/>
<circle cx="213.05" cy="832.7" r="5.4"/>
<circle cx="223.48" cy="818.1" r="5.4"/>
<circle cx="233.9" cy="803.1" r="5.4"/>
<circle cx="244.32" cy="789.7" r="5.4"/>
<circle cx="254.75" cy="781.6" r="5.4"/>
<circle cx="265.18" cy="777.9" r="5.4"/>
<circle cx="275.6" cy="775.7" r="5.4"/>
<circle cx="286.02" cy="772.8" r="5.4"/>
<circle cx="296.45" cy="772.4" r="5.4"/>
<circle cx="306.88" cy="771.3" r="5.4"/>
<circle cx="317.3" cy="771.3" r="5.4"/>
<circle cx="327.73" cy="772.4" r="5.4"/>
<circle cx="338.15" cy="771.6" r="5.4"/>
<circle cx="348.58" cy="772.1" r="5.4"/>
<circle cx="359" cy="772.4" r="5.4"/>
<circle cx="369.43" cy="772.8" r="5.4"/>
<circle cx="379.85" cy="773.5" r="5.4"/>
<circle cx="390.27" cy="775.1" r="5.4"/>
<circle cx="400.7" cy="776.5" r="5.4"/>
<circle cx="411.12" cy="777.2" r="5.4"/>
<circle cx="421.55" cy="777.9" r="5.4"/>
<circle cx="431.98" cy="780.1" r="5.4"/>
<circle cx="442.4" cy="781.6" r="5.4"/>
<circle cx="452.83" cy="785.3" r="5.4"/>
<circle cx="463.25" cy="786.8" r="5.4"/>
<circle cx="473.68" cy="788.2" r="5.4"/>
<circle cx="484.1" cy="790.4" r="5.4"/>
<circle cx="494.53" cy="791.9" r="5.4"/>
<circle cx="504.95" cy="793.4" r="5.4"/>
<circle cx="515.38" cy="795.3" r="5.4"/>
<circle cx="525.8" cy="796.3" r="5.4"/>
<circle cx="536.23" cy="797.4" r="5.4"/>
<circle cx="546.65" cy="798.8" r="5.4"/>
<circle cx="557.08" cy="800" r="5.4"/>
<circle cx="567.5" cy="800.3" r="5.4"/>
<circle cx="577.92" cy="801.2" r="5.4"/>
<circle cx="588.35" cy="801.9" r="5.4"/>
<circle cx="598.78" cy="802.9" r="5.4"/>
<circle cx="609.2" cy="803.7" r="5.4"/>
</g>
<g fill="#619CFF">
<circle cx="150.5" cy="907.6" r="5.4"/>
<circle cx="160.93" cy="894.1" r="5.4"/>
<circle cx="171.35" cy="874.6" r="5.4"/>
<circle cx="181.78" cy="843.8" r="5.4"/>
<circle cx="192.2" cy="803.5" r="5.4"/>
<circle cx="202.62" cy="755.6" r="5.4"/>
<circle cx="213.05" cy="705" r="5.4"/>
<circle cx="223.48" cy="661.8" r="5.4"/>
<circle cx="233.9" cy="631" r="5.4"/>
<circle cx="244.32" cy="612.9" r="5.4"/>
<circle cx="254.75" cy="604.9" r="5.4"/>
<circle cx="265.18" cy="600.9" r="5.4"/>
<circle cx="275.6" cy="598.5" r="5.4"/>
<circle cx="286.02" cy="597.5" r="5.4"/>
<circle cx="296.45" cy="597.5" r="5.4"/>
<circle cx="306.88" cy="596.8" r="5.4"/>
<circle cx="317.3" cy="597.1" r="5.4"/>
<circle cx="327.73" cy="597.5" r="5.4"/>
<circle cx="338.15" cy="600.9" r="5.4"/>
<circle cx="348.58" cy="607.1" r="5.4"/>
<circle cx="359" cy="615.9" r="5.4"/>
<circle cx="369.43" cy="630.3" r="5.4"/>
<circle cx="379.85" cy="646" r="5.4"/>
<circle cx="390.27" cy="664.1" r="5.4"/>
<circle cx="400.7" cy="684.3" r="5.4"/>
<circle cx="411.12" cy="705.1" r="5.4"/>
<circle cx="421.55" cy="719.9" r="5.4"/>
<circle cx="431.98" cy="736" r="5.4"/>
<circle cx="442.4" cy="749.3" r="5.4"/>
<circle cx="452.83" cy="762.5" r="5.4"/>
<circle cx="463.25" cy="773.1" r="5.4"/>
<circle cx="473.68" cy="782.4" r="5.4"/>
<circle cx="484.1" cy="789.3" r="5.4"/>
<circle cx="494.53" cy="794.9" r="5.4"/>
<circle cx="504.95" cy="799.3" r="5.4"/>
<circle cx="515.38" cy="803.7" r="5.4"/>
<circle cx="525.8" cy="806.6" r="5.4"/>
<circle cx="536.23" cy="808.8" r="5.4"/>
<circle cx="546.65" cy="811" r="5.4"/>
<circle cx="557.08" cy="812.5" r="5.4"/>
<circle cx="567.5" cy="812.9" r="5.4"/>
<circle cx="577.92" cy="814" r="5.4"/>
<circle cx="588.35" cy="814.4" r="5.4"/>
<circle cx="598.78" cy="815.4" r="5.4"/>
<circle cx="609.2" cy="815.7" r="5.4"/>
</g>
<path d="M146 859.7h9M150.5 859.7v34.8M146 894.5h9M156.43 882.6h9M160.93 882.6v6M156.43 888.6h9M166.85 876.7h9M171.35 876.7v6M166.85 882.7h9M177.28 859.6h9M181.78 859.6v8M177.28 867.6h9M187.7 845.7h9M192.2 845.7v13.6M187.7 859.3h9M198.12 836.4h9M202.62 836.4v12M198.12 848.4h9M208.55 827.9h9M213.05 827.9v19M208.55 846.9h9M218.98 817.5h9M223.48 817.5v24M218.98 841.5h9M229.4 809.7h9M233.9 809.7v24.6M229.4 834.3h9M239.82 800.2h9M244.32 800.2v28.6M239.82 828.8h9M250.25 795h9M254.75 795v32M250.25 827h9M260.68 792h9M265.18 792v33.4M260.68 825.4h9M271.1 792.1h9M275.6 792.1v31.6M271.1 823.7h9M281.52 789.6h9M286.02 789.6v33.4M281.52 823h9M291.95 790h9M296.45 790v32.4M291.95 822.4h9M302.38 790.2h9M306.88 790.2v30.8M302.38 821h9M312.8 790.5h9M317.3 790.5v31.4M312.8 821.9h9M323.23 790.4h9M327.73 790.4v31.6M323.23 822h9M333.65 791h9M338.15 791v29.8M333.65 820.8h9M344.08 791.1h9M348.58 791.1v30.2M344.08 821.3h9M354.5 792.6h9M359 792.6v28M354.5 820.6h9M364.93 792.6h9M369.43 792.6v30M364.93 822.6h9M375.35 792.4h9M379.85 792.4v31.4M375.35 823.8h9M385.77 794.4h9M390.27 794.4v29M385.77 823.4h9M396.2 796.7h9M400.7 796.7v27.2M396.2 823.9h9M406.62 797.9h9M411.12 797.9v24.8M406.62 822.7h9M417.05 798.1h9M421.55 798.1v25M417.05 823.1h9M427.48 799.3h9M431.98 799.3v26.4M427.48 825.7h9M437.9 801.1h9M442.4 801.1v24.2M437.9 825.3h9M448.33 804h9M452.83 804v22M448.33 826h9M458.75 804.4h9M463.25 804.4v23.6M458.75 828h9M469.18 806h9M473.68 806v21.8M469.18 827.8h9M479.6 807.1h9M484.1 807.1v21M479.6 828.1h9M490.03 809.3h9M494.53 809.3v22M490.03 831.3h9M500.45 809.4h9M504.95 809.4v22.4M500.45 831.8h9M510.88 812.3h9M515.38 812.3v18M510.88 830.3h9M521.3 813.4h9M525.8 813.4v18M521.3 831.4h9M531.73 814.3h9M536.23 814.3v17M531.73 831.3h9M542.15 816.5h9M546.65 816.5v17M542.15 833.5h9M552.58 818.2h9M557.08 818.2v16M552.58 834.2h9M563 818.6h9M567.5 818.6v16.4M563 835h9M573.42 819.4h9M577.92 819.4v14.8M573.42 834.2h9M583.85 819.8h9M588.35 819.8v14.8M583.85 834.6h9M594.28 821.8h9M598.78 821.8v13.8M594.28 835.6h9M604.7 823.3h9M609.2 823.3v13.6M604.7 836.9h9" fill="none" stroke="#F8766D" stroke-width="2.2"/>
<path d="M146 849.6h9M150.5 849.6v50M146 899.6h9M156.43 886.8h9M160.93 886.8v6M156.43 892.8h9M166.85 880h9M171.35 880v6M166.85 886h9M177.28 868.9h9M181.78 868.9v8M177.28 876.9h9M187.7 855.9h9M192.2 855.9v12M187.7 867.9h9M198.12 837.5h9M202.62 837.5v18M198.12 855.5h9M208.55 821.8h9M213.05 821.8v21.8M208.55 843.6h9M218.98 805.4h9M223.48 805.4v25.4M218.98 830.8h9M229.4 787.1h9M233.9 787.1v32M229.4 819.1h9M239.82 773h9M244.32 773v33.4M239.82 806.4h9M250.25 764.6h9M254.75 764.6v34M250.25 798.6h9M260.68 761.9h9M265.18 761.9v32M260.68 793.9h9M271.1 760.1h9M275.6 760.1v31.2M271.1 791.3h9M281.52 757.5h9M286.02 757.5v30.6M281.52 788.1h9M291.95 757.4h9M296.45 757.4v30M291.95 787.4h9M302.38 756.9h9M306.88 756.9v28.8M302.38 785.7h9M312.8 757.1h9M317.3 757.1v28.4M312.8 785.5h9M323.23 758.6h9M327.73 758.6v27.6M323.23 786.2h9M333.65 758h9M338.15 758v27.2M333.65 785.2h9M344.08 759.2h9M348.58 759.2v25.8M344.08 785h9M354.5 760.2h9M359 760.2v24.4M354.5 784.6h9M364.93 761.2h9M369.43 761.2v23.2M364.93 784.4h9M375.35 762.5h9M379.85 762.5v22M375.35 784.5h9M385.77 764.8h9M390.27 764.8v20.6M385.77 785.4h9M396.2 766.7h9M400.7 766.7v19.6M396.2 786.3h9M406.62 768.2h9M411.12 768.2v18M406.62 786.2h9M417.05 769.1h9M421.55 769.1v17.6M417.05 786.7h9M427.48 771.8h9M431.98 771.8v16.6M427.48 788.4h9M437.9 774h9M442.4 774v15.2M437.9 789.2h9M448.33 778.3h9M452.83 778.3v14M448.33 792.3h9M458.75 780.2h9M463.25 780.2v13.2M458.75 793.4h9M469.18 782.2h9M473.68 782.2v12M469.18 794.2h9M479.6 784.9h9M484.1 784.9v11M479.6 795.9h9M490.03 786.9h9M494.53 786.9v10M490.03 796.9h9M500.45 787.9h9M504.95 787.9v11M500.45 798.9h9M510.88 789.3h9M515.38 789.3v12M510.88 801.3h9M521.3 790.8h9M525.8 790.8v11M521.3 801.8h9M531.73 792.4h9M536.23 792.4v10M531.73 802.4h9M542.15 793.8h9M546.65 793.8v10M542.15 803.8h9M552.58 795h9M557.08 795v10M552.58 805h9M563 795.3h9M567.5 795.3v10M563 805.3h9M573.42 796.7h9M577.92 796.7v9M573.42 805.7h9M583.85 797.4h9M588.35 797.4v9M583.85 806.4h9M594.28 798.4h9M598.78 798.4v9M594.28 807.4h9M604.7 798.7h9M609.2 798.7v10M604.7 808.7h9" fill="none" stroke="#00BA38" stroke-width="2.2"/>
<path d="M146 904.6h9M150.5 904.6v6M146 910.6h9M156.43 891.1h9M160.93 891.1v6M156.43 897.1h9M166.85 870.6h9M171.35 870.6v8M166.85 878.6h9M177.28 836.8h9M181.78 836.8v14M177.28 850.8h9M187.7 793.2h9M192.2 793.2v20.6M187.7 813.8h9M198.12 740.9h9M202.62 740.9v29.4M198.12 770.3h9M208.55 686.6h9M213.05 686.6v36.8M208.55 723.4h9M218.98 642.1h9M223.48 642.1v39.4M218.98 681.5h9M229.4 609.5h9M233.9 609.5v43M229.4 652.5h9M239.82 590.3h9M244.32 590.3v45.2M239.82 635.5h9M250.25 580h9M254.75 580v49.8M250.25 629.8h9M260.68 576.8h9M265.18 576.8v48.2M260.68 625h9M271.1 574.6h9M275.6 574.6v47.8M271.1 622.4h9M281.52 574.2h9M286.02 574.2v46.6M281.52 620.8h9M291.95 574.6h9M296.45 574.6v45.8M291.95 620.4h9M302.38 573.3h9M306.88 573.3v47M302.38 620.3h9M312.8 574.2h9M317.3 574.2v45.8M312.8 620h9M323.23 575.5h9M327.73 575.5v44M323.23 619.5h9M333.65 581.3h9M338.15 581.3v39.2M333.65 620.5h9M344.08 590.4h9M348.58 590.4v33.4M344.08 623.8h9M354.5 602.1h9M359 602.1v27.6M354.5 629.7h9M364.93 619h9M369.43 619v22.6M364.93 641.6h9M375.35 635h9M379.85 635v22M375.35 657h9M385.77 651.8h9M390.27 651.8v24.6M385.77 676.4h9M396.2 668.9h9M400.7 668.9v30.8M396.2 699.7h9M406.62 689.1h9M411.12 689.1v32M406.62 721.1h9M417.05 701.1h9M421.55 701.1v37.6M417.05 738.7h9M427.48 717.8h9M431.98 717.8v36.4M427.48 754.2h9M437.9 732.6h9M442.4 732.6v33.4M437.9 766h9M448.33 747.3h9M452.83 747.3v30.4M448.33 777.7h9M458.75 758.8h9M463.25 758.8v28.6M458.75 787.4h9M469.18 769.2h9M473.68 769.2v26.4M469.18 795.6h9M479.6 778h9M484.1 778v22.6M479.6 800.6h9M490.03 785h9M494.53 785v19.8M490.03 804.8h9M500.45 791.6h9M504.95 791.6v15.4M500.45 807h9M510.88 797.1h9M515.38 797.1v13.2M510.88 810.3h9M521.3 800.6h9M525.8 800.6v12M521.3 812.6h9M531.73 803.3h9M536.23 803.3v11M531.73 814.3h9M542.15 806h9M546.65 806v10M542.15 816h9M552.58 808.5h9M557.08 808.5v8M552.58 816.5h9M563 810.4h9M567.5 810.4v5M563 815.4h9M573.42 811.5h9M577.92 811.5v5M573.42 816.5h9M583.85 811.9h9M588.35 811.9v5M583.85 816.9h9M594.28 812.9h9M598.78 812.9v5M594.28 817.9h9M604.7 813.2h9M609.2 813.2v5M604.7 818.2h9" fill="none" stroke="#619CFF" stroke-width="2.2"/>
<path d="M122.75 556V927.75" stroke="#000" stroke-width="7.3" fill="none"/>
<path d="M122.75 927.75H637.3" stroke="#000" stroke-width="7.3" fill="none"/>
<path d="M122.75 842.2h-9.5M122.75 753.3h-9.5M122.75 664.4h-9.5M122.75 575.5h-9.5M150.5 927.75v9.5M254.75 927.75v9.5M359 927.75v9.5M463.25 927.75v9.5M567.5 927.75v9.5" stroke="#333333" stroke-width="4.0" fill="none"/>
<g font-size="29.1" fill="#4D4D4D">
<text transform="translate(104.15 852.7) scale(1 1.06)" text-anchor="end">0.15</text>
<text transform="translate(104.15 763.8) scale(1 1.06)" text-anchor="end">0.20</text>
<text transform="translate(104.15 674.9) scale(1 1.06)" text-anchor="end">0.25</text>
<text transform="translate(104.15 586) scale(1 1.06)" text-anchor="end">0.30</text>
<text transform="translate(150.5 967.15) scale(1 1.06)" text-anchor="middle">0</text>
<text transform="translate(254.75 967.15) scale(1 1.06)" text-anchor="middle">5</text>
<text transform="translate(359 967.15) scale(1 1.06)" text-anchor="middle">10</text>
<text transform="translate(463.25 967.15) scale(1 1.06)" text-anchor="middle">15</text>
<text transform="translate(567.5 967.15) scale(1 1.06)" text-anchor="middle">20</text>
</g>
<text x="138.5" y="535.9" font-size="38" font-weight="bold" fill="#000">c</text>
</g>
<g id="panel-d">
<polyline points="760.3,878.8 770.72,883 781.15,878 791.57,864.4 802,852.5 812.42,840.7 822.85,827.3 833.27,814.7 843.7,802.6 854.12,793.8 864.55,786.5 874.97,780 885.4,776.8 895.82,773.3 906.25,771 916.67,768.8 927.1,770 937.52,770.3 947.95,768.7 958.38,769.8 968.8,769.9 979.22,771.2 989.65,772.6 1000.07,772.7 1010.5,774.7 1020.92,776.2 1031.35,776.2 1041.78,776.9 1052.2,777.9 1062.62,780.3 1073.05,782.1 1083.47,783.2 1093.9,785 1104.33,788.7 1114.75,789.4 1125.17,789.4 1135.6,790.1 1146.03,790.1 1156.45,791.6 1166.88,793.8 1177.3,794.1 1187.72,794.6 1198.15,795.3 1208.58,795.6 1219,797.5" fill="none" stroke="#F8766D" stroke-width="4.0" stroke-linejoin="round"/>
<polyline points="760.3,863.6 770.72,883.9 781.15,879.7 791.57,867.8 802,858.5 812.42,850 822.85,838.1 833.27,827.5 843.7,817.9 854.12,808.5 864.55,804.5 874.97,801 885.4,797 895.82,793.5 906.25,791 916.67,788.5 927.1,787 937.52,785 947.95,783.4 958.38,781.5 968.8,780 979.22,778.2 989.65,776.3 1000.07,775.3 1010.5,774.8 1020.92,773.5 1031.35,769.6 1041.78,767.6 1052.2,766.6 1062.62,766.2 1073.05,764.7 1083.47,763.2 1093.9,762.2 1104.33,761.5 1114.75,757.8 1125.17,757.1 1135.6,755.6 1146.03,753.4 1156.45,752.4 1166.88,751.2 1177.3,749.7 1187.72,747.5 1198.15,746.8 1208.58,743.8 1219,743.1" fill="none" stroke="#00BA38" stroke-width="4.0" stroke-linejoin="round"/>
<polyline points="760.3,905.9 770.72,892.4 781.15,874.6 791.57,845.8 802,818 812.42,785.9 822.85,749.6 833.27,705.8 843.7,668.8 854.12,643.1 864.55,625.9 874.97,611.5 885.4,605.6 895.82,603.4 906.25,603.1 916.67,604.9 927.1,607.8 937.52,611.5 947.95,615.1 958.38,618.8 968.8,623.5 979.22,629.4 989.65,634.3 1000.07,641.1 1010.5,647.3 1020.92,654.6 1031.35,659.7 1041.78,667.1 1052.2,673.7 1062.62,680.6 1073.05,686.9 1083.47,693.1 1093.9,699.4 1104.33,706 1114.75,711.2 1125.17,716.3 1135.6,721.5 1146.03,725.9 1156.45,731.5 1166.88,736.2 1177.3,739.1 1187.72,742.8 1198.15,746.5 1208.58,749.1 1219,752.4" fill="none" stroke="#619CFF" stroke-width="4.0" stroke-linejoin="round"/>
<g fill="#F8766D">
<circle cx="760.3" cy="878.8" r="5.4"/>
<circle cx="770.72" cy="883" r="5.4"/>
<circle cx="781.15" cy="878" r="5.4"/>
<circle cx="791.57" cy="864.4" r="5.4"/>
<circle cx="802" cy="852.5" r="5.4"/>
<circle cx="812.42" cy="840.7" r="5.4"/>
<circle cx="822.85" cy="827.3" r="5.4"/>
<circle cx="833.27" cy="814.7" r="5.4"/>
<circle cx="843.7" cy="802.6" r="5.4"/>
<circle cx="854.12" cy="793.8" r="5.4"/>
<circle cx="864.55" cy="786.5" r="5.4"/>
<circle cx="874.97" cy="780" r="5.4"/>
<circle cx="885.4" cy="776.8" r="5.4"/>
<circle cx="895.82" cy="773.3" r="5.4"/>
<circle cx="906.25" cy="771" r="5.4"/>
<circle cx="916.67" cy="768.8" r="5.4"/>
<circle cx="927.1" cy="770" r="5.4"/>
<circle cx="937.52" cy="770.3" r="5.4"/>
<circle cx="947.95" cy="768.7" r="5.4"/>
<circle cx="958.38" cy="769.8" r="5.4"/>
<circle cx="968.8" cy="769.9" r="5.4"/>
<circle cx="979.22" cy="771.2" r="5.4"/>
<circle cx="989.65" cy="772.6" r="5.4"/>
<circle cx="1000.07" cy="772.7" r="5.4"/>
<circle cx="1010.5" cy="774.7" r="5.4"/>
<circle cx="1020.92" cy="776.2" r="5.4"/>
<circle cx="1031.35" cy="776.2" r="5.4"/>
<circle cx="1041.78" cy="776.9" r="5.4"/>
<circle cx="1052.2" cy="777.9" r="5.4"/>
<circle cx="1062.62" cy="780.3" r="5.4"/>
<circle cx="1073.05" cy="782.1" r="5.4"/>
<circle cx="1083.47" cy="783.2" r="5.4"/>
<circle cx="1093.9" cy="785" r="5.4"/>
<circle cx="1104.33" cy="788.7" r="5.4"/>
<circle cx="1114.75" cy="789.4" r="5.4"/>
<circle cx="1125.17" cy="789.4" r="5.4"/>
<circle cx="1135.6" cy="790.1" r="5.4"/>
<circle cx="1146.03" cy="790.1" r="5.4"/>
<circle cx="1156.45" cy="791.6" r="5.4"/>
<circle cx="1166.88" cy="793.8" r="5.4"/>
<circle cx="1177.3" cy="794.1" r="5.4"/>
<circle cx="1187.72" cy="794.6" r="5.4"/>
<circle cx="1198.15" cy="795.3" r="5.4"/>
<circle cx="1208.58" cy="795.6" r="5.4"/>
<circle cx="1219" cy="797.5" r="5.4"/>
</g>
<g fill="#00BA38">
<circle cx="760.3" cy="863.6" r="5.4"/>
<circle cx="770.72" cy="883.9" r="5.4"/>
<circle cx="781.15" cy="879.7" r="5.4"/>
<circle cx="791.57" cy="867.8" r="5.4"/>
<circle cx="802" cy="858.5" r="5.4"/>
<circle cx="812.42" cy="850" r="5.4"/>
<circle cx="822.85" cy="838.1" r="5.4"/>
<circle cx="833.27" cy="827.5" r="5.4"/>
<circle cx="843.7" cy="817.9" r="5.4"/>
<circle cx="854.12" cy="808.5" r="5.4"/>
<circle cx="864.55" cy="804.5" r="5.4"/>
<circle cx="874.97" cy="801" r="5.4"/>
<circle cx="885.4" cy="797" r="5.4"/>
<circle cx="895.82" cy="793.5" r="5.4"/>
<circle cx="906.25" cy="791" r="5.4"/>
<circle cx="916.67" cy="788.5" r="5.4"/>
<circle cx="927.1" cy="787" r="5.4"/>
<circle cx="937.52" cy="785" r="5.4"/>
<circle cx="947.95" cy="783.4" r="5.4"/>
<circle cx="958.38" cy="781.5" r="5.4"/>
<circle cx="968.8" cy="780" r="5.4"/>
<circle cx="979.22" cy="778.2" r="5.4"/>
<circle cx="989.65" cy="776.3" r="5.4"/>
<circle cx="1000.07" cy="775.3" r="5.4"/>
<circle cx="1010.5" cy="774.8" r="5.4"/>
<circle cx="1020.92" cy="773.5" r="5.4"/>
<circle cx="1031.35" cy="769.6" r="5.4"/>
<circle cx="1041.78" cy="767.6" r="5.4"/>
<circle cx="1052.2" cy="766.6" r="5.4"/>
<circle cx="1062.62" cy="766.2" r="5.4"/>
<circle cx="1073.05" cy="764.7" r="5.4"/>
<circle cx="1083.47" cy="763.2" r="5.4"/>
<circle cx="1093.9" cy="762.2" r="5.4"/>
<circle cx="1104.33" cy="761.5" r="5.4"/>
<circle cx="1114.75" cy="757.8" r="5.4"/>
<circle cx="1125.17" cy="757.1" r="5.4"/>
<circle cx="1135.6" cy="755.6" r="5.4"/>
<circle cx="1146.03" cy="753.4" r="5.4"/>
<circle cx="1156.45" cy="752.4" r="5.4"/>
<circle cx="1166.88" cy="751.2" r="5.4"/>
<circle cx="1177.3" cy="749.7" r="5.4"/>
<circle cx="1187.72" cy="747.5" r="5.4"/>
<circle cx="1198.15" cy="746.8" r="5.4"/>
<circle cx="1208.58" cy="743.8" r="5.4"/>
<circle cx="1219" cy="743.1" r="5.4"/>
</g>
<g fill="#619CFF">
<circle cx="760.3" cy="905.9" r="5.4"/>
<circle cx="770.72" cy="892.4" r="5.4"/>
<circle cx="781.15" cy="874.6" r="5.4"/>
<circle cx="791.57" cy="845.8" r="5.4"/>
<circle cx="802" cy="818" r="5.4"/>
<circle cx="812.42" cy="785.9" r="5.4"/>
<circle cx="822.85" cy="749.6" r="5.4"/>
<circle cx="833.27" cy="705.8" r="5.4"/>
<circle cx="843.7" cy="668.8" r="5.4"/>
<circle cx="854.12" cy="643.1" r="5.4"/>
<circle cx="864.55" cy="625.9" r="5.4"/>
<circle cx="874.97" cy="611.5" r="5.4"/>
<circle cx="885.4" cy="605.6" r="5.4"/>
<circle cx="895.82" cy="603.4" r="5.4"/>
<circle cx="906.25" cy="603.1" r="5.4"/>
<circle cx="916.67" cy="604.9" r="5.4"/>
<circle cx="927.1" cy="607.8" r="5.4"/>
<circle cx="937.52" cy="611.5" r="5.4"/>
<circle cx="947.95" cy="615.1" r="5.4"/>
<circle cx="958.38" cy="618.8" r="5.4"/>
<circle cx="968.8" cy="623.5" r="5.4"/>
<circle cx="979.22" cy="629.4" r="5.4"/>
<circle cx="989.65" cy="634.3" r="5.4"/>
<circle cx="1000.07" cy="641.1" r="5.4"/>
<circle cx="1010.5" cy="647.3" r="5.4"/>
<circle cx="1020.92" cy="654.6" r="5.4"/>
<circle cx="1031.35" cy="659.7" r="5.4"/>
<circle cx="1041.78" cy="667.1" r="5.4"/>
<circle cx="1052.2" cy="673.7" r="5.4"/>
<circle cx="1062.62" cy="680.6" r="5.4"/>
<circle cx="1073.05" cy="686.9" r="5.4"/>
<circle cx="1083.47" cy="693.1" r="5.4"/>
<circle cx="1093.9" cy="699.4" r="5.4"/>
<circle cx="1104.33" cy="706" r="5.4"/>
<circle cx="1114.75" cy="711.2" r="5.4"/>
<circle cx="1125.17" cy="716.3" r="5.4"/>
<circle cx="1135.6" cy="721.5" r="5.4"/>
<circle cx="1146.03" cy="725.9" r="5.4"/>
<circle cx="1156.45" cy="731.5" r="5.4"/>
<circle cx="1166.88" cy="736.2" r="5.4"/>
<circle cx="1177.3" cy="739.1" r="5.4"/>
<circle cx="1187.72" cy="742.8" r="5.4"/>
<circle cx="1198.15" cy="746.5" r="5.4"/>
<circle cx="1208.58" cy="749.1" r="5.4"/>
<circle cx="1219" cy="752.4" r="5.4"/>
</g>
<path d="M755.8 867.3h9M760.3 867.3v23M755.8 890.3h9M766.22 879h9M770.72 879v8M766.22 887h9M776.65 872h9M781.15 872v12M776.65 884h9M787.07 854.4h9M791.57 854.4v20M787.07 874.4h9M797.5 837.5h9M802 837.5v30M797.5 867.5h9M807.92 821.4h9M812.42 821.4v38.6M807.92 860h9M818.35 801.8h9M822.85 801.8v51M818.35 852.8h9M828.77 785.7h9M833.27 785.7v58M828.77 843.7h9M839.2 771.6h9M843.7 771.6v62M839.2 833.6h9M849.62 761.3h9M854.12 761.3v65M849.62 826.3h9M860.05 752.2h9M864.55 752.2v68.6M860.05 820.8h9M870.47 745.6h9M874.97 745.6v68.8M870.47 814.4h9M880.9 741.9h9M885.4 741.9v69.8M880.9 811.7h9M891.32 739.5h9M895.82 739.5v67.6M891.32 807.1h9M901.75 738h9M906.25 738v66M901.75 804h9M912.17 735.7h9M916.67 735.7v66.2M912.17 801.9h9M922.6 738h9M927.1 738v64M922.6 802h9M933.02 738.3h9M937.52 738.3v64M933.02 802.3h9M943.45 737.8h9M947.95 737.8v61.8M943.45 799.6h9M953.88 740.3h9M958.38 740.3v59M953.88 799.3h9M964.3 740.9h9M968.8 740.9v58M964.3 798.9h9M974.72 743.5h9M979.22 743.5v55.4M974.72 798.9h9M985.15 745.7h9M989.65 745.7v53.8M985.15 799.5h9M995.57 746.6h9M1000.07 746.6v52.2M995.57 798.8h9M1006 749.7h9M1010.5 749.7v50M1006 799.7h9M1016.42 752.5h9M1020.92 752.5v47.4M1016.42 799.9h9M1026.85 755.6h9M1031.35 755.6v41.2M1026.85 796.8h9M1037.28 757.1h9M1041.78 757.1v39.6M1037.28 796.7h9M1047.7 760.9h9M1052.2 760.9v34M1047.7 794.9h9M1058.12 764.5h9M1062.62 764.5v31.6M1058.12 796.1h9M1068.55 767.4h9M1073.05 767.4v29.4M1068.55 796.8h9M1078.97 771.4h9M1083.47 771.4v23.6M1078.97 795h9M1089.4 774.5h9M1093.9 774.5v21M1089.4 795.5h9M1099.83 778.8h9M1104.33 778.8v19.8M1099.83 798.6h9M1110.25 781.4h9M1114.75 781.4v16M1110.25 797.4h9M1120.67 783.4h9M1125.17 783.4v12M1120.67 795.4h9M1131.1 783.5h9M1135.6 783.5v13.2M1131.1 796.7h9M1141.53 784.1h9M1146.03 784.1v12M1141.53 796.1h9M1151.95 786.6h9M1156.45 786.6v10M1151.95 796.6h9M1162.38 788.3h9M1166.88 788.3v11M1162.38 799.3h9M1172.8 787.5h9M1177.3 787.5v13.2M1172.8 800.7h9M1183.22 787.4h9M1187.72 787.4v14.4M1183.22 801.8h9M1193.65 787.3h9M1198.15 787.3v16M1193.65 803.3h9M1204.08 787.7h9M1208.58 787.7v15.8M1204.08 803.5h9M1214.5 787.2h9M1219 787.2v20.6M1214.5 807.8h9" fill="none" stroke="#F8766D" stroke-width="2.2"/>
<path d="M755.8 834.8h9M760.3 834.8v57.6M755.8 892.4h9M766.22 878.9h9M770.72 878.9v10M766.22 888.9h9M776.65 868.7h9M781.15 868.7v22M776.65 890.7h9M787.07 853h9M791.57 853v29.6M787.07 882.6h9M797.5 839.8h9M802 839.8v37.4M797.5 877.2h9M807.92 830.5h9M812.42 830.5v39M807.92 869.5h9M818.35 813.1h9M822.85 813.1v50M818.35 863.1h9M828.77 799.2h9M833.27 799.2v56.6M828.77 855.8h9M839.2 786.7h9M843.7 786.7v62.4M839.2 849.1h9M849.62 775h9M854.12 775v67M849.62 842h9M860.05 769.9h9M864.55 769.9v69.2M860.05 839.1h9M870.47 766.1h9M874.97 766.1v69.8M870.47 835.9h9M880.9 762.7h9M885.4 762.7v68.6M880.9 831.3h9M891.32 759.7h9M895.82 759.7v67.6M891.32 827.3h9M901.75 757.7h9M906.25 757.7v66.6M901.75 824.3h9M912.17 756.6h9M916.67 756.6v63.8M912.17 820.4h9M922.6 753.7h9M927.1 753.7v66.6M922.6 820.3h9M933.02 753.5h9M937.52 753.5v63M933.02 816.5h9M943.45 751.6h9M947.95 751.6v63.6M943.45 815.2h9M953.88 751h9M958.38 751v61M953.88 812h9M964.3 749.1h9M968.8 749.1v61.8M964.3 810.9h9M974.72 748.5h9M979.22 748.5v59.4M974.72 807.9h9M985.15 747.3h9M989.65 747.3v58M985.15 805.3h9M995.57 746.9h9M1000.07 746.9v56.8M995.57 803.7h9M1006 747.3h9M1010.5 747.3v55M1006 802.3h9M1016.42 747.4h9M1020.92 747.4v52.2M1016.42 799.6h9M1026.85 742.8h9M1031.35 742.8v53.6M1026.85 796.4h9M1037.28 740.4h9M1041.78 740.4v54.4M1037.28 794.8h9M1047.7 740h9M1052.2 740v53.2M1047.7 793.2h9M1058.12 740h9M1062.62 740v52.4M1058.12 792.4h9M1068.55 737.9h9M1073.05 737.9v53.6M1068.55 791.5h9M1078.97 737.1h9M1083.47 737.1v52.2M1078.97 789.3h9M1089.4 735.9h9M1093.9 735.9v52.6M1089.4 788.5h9M1099.83 734.8h9M1104.33 734.8v53.4M1099.83 788.2h9M1110.25 730.5h9M1114.75 730.5v54.6M1110.25 785.1h9M1120.67 730.5h9M1125.17 730.5v53.2M1120.67 783.7h9M1131.1 729h9M1135.6 729v53.2M1131.1 782.2h9M1141.53 725.4h9M1146.03 725.4v56M1141.53 781.4h9M1151.95 724.1h9M1156.45 724.1v56.6M1151.95 780.7h9M1162.38 723h9M1166.88 723v56.4M1162.38 779.4h9M1172.8 721.6h9M1177.3 721.6v56.2M1172.8 777.8h9M1183.22 718.5h9M1187.72 718.5v58M1183.22 776.5h9M1193.65 717.4h9M1198.15 717.4v58.8M1193.65 776.2h9M1204.08 713.2h9M1208.58 713.2v61.2M1204.08 774.4h9M1214.5 712.9h9M1219 712.9v60.4M1214.5 773.3h9" fill="none" stroke="#00BA38" stroke-width="2.2"/>
<path d="M755.8 900.9h9M760.3 900.9v10M755.8 910.9h9M766.22 887.4h9M770.72 887.4v10M766.22 897.4h9M776.65 867h9M781.15 867v15.2M776.65 882.2h9M787.07 836.1h9M791.57 836.1v19.4M787.07 855.5h9M797.5 804.4h9M802 804.4v27.2M797.5 831.6h9M807.92 769.7h9M812.42 769.7v32.4M807.92 802.1h9M818.35 730.3h9M822.85 730.3v38.6M818.35 768.9h9M828.77 683h9M833.27 683v45.6M828.77 728.6h9M839.2 642.8h9M843.7 642.8v52M839.2 694.8h9M849.62 615.4h9M854.12 615.4v55.4M849.62 670.8h9M860.05 595.2h9M864.55 595.2v61.4M860.05 656.6h9M870.47 581h9M874.97 581v61M870.47 642h9M880.9 574.6h9M885.4 574.6v62M880.9 636.6h9M891.32 573.1h9M895.82 573.1v60.6M891.32 633.7h9M901.75 574.1h9M906.25 574.1v58M901.75 632.1h9M912.17 576.1h9M916.67 576.1v57.6M912.17 633.7h9M922.6 580h9M927.1 580v55.6M922.6 635.6h9M933.02 584.9h9M937.52 584.9v53.2M933.02 638.1h9M943.45 589.4h9M947.95 589.4v51.4M943.45 640.8h9M953.88 594.4h9M958.38 594.4v48.8M953.88 643.2h9M964.3 600.3h9M968.8 600.3v46.4M964.3 646.7h9M974.72 607.5h9M979.22 607.5v43.8M974.72 651.3h9M985.15 614h9M989.65 614v40.6M985.15 654.6h9M995.57 622.2h9M1000.07 622.2v37.8M995.57 660h9M1006 630.2h9M1010.5 630.2v34.2M1006 664.4h9M1016.42 638.6h9M1020.92 638.6v32M1016.42 670.6h9M1026.85 644.8h9M1031.35 644.8v29.8M1026.85 674.6h9M1037.28 653.1h9M1041.78 653.1v28M1037.28 681.1h9M1047.7 660.6h9M1052.2 660.6v26.2M1047.7 686.8h9M1058.12 668.8h9M1062.62 668.8v23.6M1058.12 692.4h9M1068.55 676.6h9M1073.05 676.6v20.6M1068.55 697.2h9M1078.97 682.6h9M1083.47 682.6v21M1078.97 703.6h9M1089.4 689.5h9M1093.9 689.5v19.8M1089.4 709.3h9M1099.83 696.7h9M1104.33 696.7v18.6M1099.83 715.3h9M1110.25 701.9h9M1114.75 701.9v18.6M1110.25 720.5h9M1120.67 707.8h9M1125.17 707.8v17M1120.67 724.8h9M1131.1 712.5h9M1135.6 712.5v18M1131.1 730.5h9M1141.53 716.7h9M1146.03 716.7v18.4M1141.53 735.1h9M1151.95 722.1h9M1156.45 722.1v18.8M1151.95 740.9h9M1162.38 725.9h9M1166.88 725.9v20.6M1162.38 746.5h9M1172.8 728.8h9M1177.3 728.8v20.6M1172.8 749.4h9M1183.22 731.9h9M1187.72 731.9v21.8M1183.22 753.7h9M1193.65 735.5h9M1198.15 735.5v22M1193.65 757.5h9M1204.08 737.3h9M1208.58 737.3v23.6M1204.08 760.9h9M1214.5 739.7h9M1219 739.7v25.4M1214.5 765.1h9" fill="none" stroke="#619CFF" stroke-width="2.2"/>
<path d="M732.5 556V927.75" stroke="#000" stroke-width="7.3" fill="none"/>
<path d="M732.5 927.75H1247" stroke="#000" stroke-width="7.3" fill="none"/>
<path d="M732.5 926.3h-9.5M732.5 835.3h-9.5M732.5 744.4h-9.5M732.5 653.4h-9.5M732.5 562.4h-9.5M760.3 927.75v9.5M864.55 927.75v9.5M968.8 927.75v9.5M1073.05 927.75v9.5M1177.3 927.75v9.5" stroke="#333333" stroke-width="4.0" fill="none"/>
<g font-size="29.1" fill="#4D4D4D">
<text transform="translate(713.9 936.8) scale(1 1.06)" text-anchor="end">0.10</text>
<text transform="translate(713.9 845.8) scale(1 1.06)" text-anchor="end">0.15</text>
<text transform="translate(713.9 754.9) scale(1 1.06)" text-anchor="end">0.20</text>
<text transform="translate(713.9 663.9) scale(1 1.06)" text-anchor="end">0.25</text>
<text transform="translate(713.9 572.9) scale(1 1.06)" text-anchor="end">0.30</text>
<text transform="translate(760.3 967.15) scale(1 1.06)" text-anchor="middle">0</text>
<text transform="translate(864.55 967.15) scale(1 1.06)" text-anchor="middle">5</text>
<text transform="translate(968.8 967.15) scale(1 1.06)" text-anchor="middle">10</text>
<text transform="translate(1073.05 967.15) scale(1 1.06)" text-anchor="middle">15</text>
<text transform="translate(1177.3 967.15) scale(1 1.06)" text-anchor="middle">20</text>
</g>
<text x="748.5" y="535.9" font-size="38" font-weight="bold" fill="#000">d</text>
</g>
<text x="685" y="1009.3" font-size="36.4" text-anchor="middle" fill="#000">Time (hours)</text>
<text transform="translate(30.6 489.0) rotate(-90)" font-size="36.4" text-anchor="middle" fill="#000">OD (450nm)</text>
<g id="legend">
<text x="1306" y="398.4" font-size="36.4" fill="#000">Peptide</text>
<path d="M1313.8 452.4H1364" stroke="#F8766D" stroke-width="4.8" fill="none"/>
<circle cx="1338.8" cy="452.4" r="5.7" fill="#F8766D"/>
<text x="1387.4" y="462.1" font-size="29.2" fill="#000">AKTIKITQTR (AmiA ligand)</text>
<path d="M1313.8 515.2H1364" stroke="#00BA38" stroke-width="4.8" fill="none"/>
<circle cx="1338.8" cy="515.2" r="5.7" fill="#00BA38"/>
<text x="1387.4" y="524.9" font-size="29.2" fill="#000">FNEMQPIVDRQ (AliA ligand)</text>
<path d="M1313.8 578.5H1364" stroke="#619CFF" stroke-width="4.8" fill="none"/>
<circle cx="1338.8" cy="578.5" r="5.7" fill="#619CFF"/>
<text x="1387.4" y="588.2" font-size="29.2" fill="#000">no peptide</text>
</g>
</svg>
</body>
</html>
